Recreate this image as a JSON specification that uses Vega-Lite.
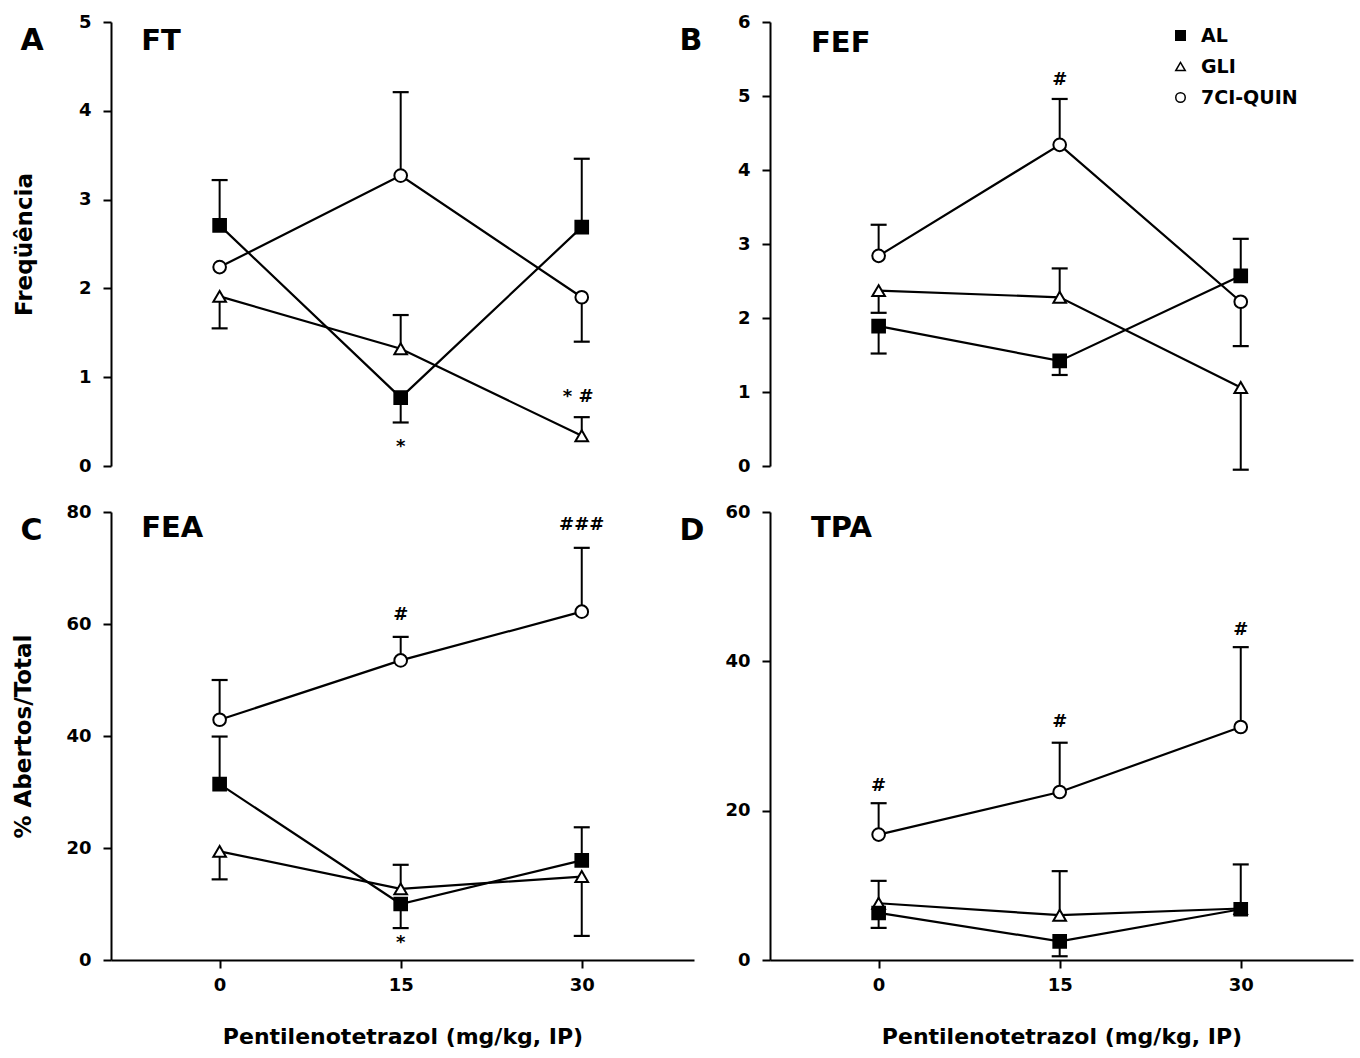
{
  "$schema": "https://vega.github.io/schema/vega-lite/v6.json",
  "background": "white",
  "padding": {"left": 12, "top": 13, "right": 10, "bottom": 6},
  "bounds": "flush",
  "columns": 2,
  "spacing": {"row": 46, "column": 76},
  "config": {
    "view": {"stroke": null},
    "font": "DejaVu Sans",
    "axis": {
      "grid": false,
      "domainColor": "black", "domainWidth": 2,
      "tickColor": "black", "tickWidth": 2, "tickSize": 8,
      "labelFont": "DejaVu Sans", "labelFontSize": 18, "labelFontWeight": "bold", "labelColor": "black",
      "titleFont": "DejaVu Sans", "titleFontSize": 22, "titleFontWeight": "bold", "titleColor": "black"
    },
    "axisY": {"labelPadding": 12, "titleFontSize": 23},
    "axisX": {"labelPadding": 8},
    "text": {"font": "DejaVu Sans", "color": "black"}
  },
  "datasets": {
    "pts": [
      {"p": "A", "dose": 0, "g": "AL", "m": 2.71, "e": 3.22},
      {"p": "A", "dose": 15, "g": "AL", "m": 0.77, "e": 0.49},
      {"p": "A", "dose": 30, "g": "AL", "m": 2.69, "e": 3.46},
      {"p": "A", "dose": 0, "g": "GLI", "m": 1.91, "e": 1.55},
      {"p": "A", "dose": 15, "g": "GLI", "m": 1.32, "e": 1.70},
      {"p": "A", "dose": 30, "g": "GLI", "m": 0.34, "e": 0.55},
      {"p": "A", "dose": 0, "g": "7CI-QUIN", "m": 2.24, "e": null},
      {"p": "A", "dose": 15, "g": "7CI-QUIN", "m": 3.27, "e": 4.21},
      {"p": "A", "dose": 30, "g": "7CI-QUIN", "m": 1.90, "e": 1.40},
      {"p": "B", "dose": 0, "g": "AL", "m": 1.89, "e": 1.52},
      {"p": "B", "dose": 15, "g": "AL", "m": 1.42, "e": 1.23},
      {"p": "B", "dose": 30, "g": "AL", "m": 2.57, "e": 3.07},
      {"p": "B", "dose": 0, "g": "GLI", "m": 2.37, "e": 2.07},
      {"p": "B", "dose": 15, "g": "GLI", "m": 2.28, "e": 2.67},
      {"p": "B", "dose": 30, "g": "GLI", "m": 1.06, "e": -0.05},
      {"p": "B", "dose": 0, "g": "7CI-QUIN", "m": 2.84, "e": 3.26},
      {"p": "B", "dose": 15, "g": "7CI-QUIN", "m": 4.34, "e": 4.96},
      {"p": "B", "dose": 30, "g": "7CI-QUIN", "m": 2.22, "e": 1.62},
      {"p": "C", "dose": 0, "g": "AL", "m": 31.4, "e": 39.9},
      {"p": "C", "dose": 15, "g": "AL", "m": 10.0, "e": 5.7},
      {"p": "C", "dose": 30, "g": "AL", "m": 17.8, "e": 23.7},
      {"p": "C", "dose": 0, "g": "GLI", "m": 19.4, "e": 14.4},
      {"p": "C", "dose": 15, "g": "GLI", "m": 12.7, "e": 17.0},
      {"p": "C", "dose": 30, "g": "GLI", "m": 14.9, "e": 4.3},
      {"p": "C", "dose": 0, "g": "7CI-QUIN", "m": 42.9, "e": 50.0},
      {"p": "C", "dose": 15, "g": "7CI-QUIN", "m": 53.5, "e": 57.7},
      {"p": "C", "dose": 30, "g": "7CI-QUIN", "m": 62.2, "e": 73.6},
      {"p": "D", "dose": 0, "g": "GLI", "m": 7.6, "e": 10.6},
      {"p": "D", "dose": 15, "g": "GLI", "m": 6.0, "e": 11.9},
      {"p": "D", "dose": 30, "g": "GLI", "m": 6.9, "e": null},
      {"p": "D", "dose": 0, "g": "7CI-QUIN", "m": 16.8, "e": 21.0},
      {"p": "D", "dose": 15, "g": "7CI-QUIN", "m": 22.5, "e": 29.1},
      {"p": "D", "dose": 30, "g": "7CI-QUIN", "m": 31.2, "e": 41.9},
      {"p": "D", "dose": 0, "g": "AL", "m": 6.3, "e": 4.3},
      {"p": "D", "dose": 15, "g": "AL", "m": 2.5, "e": 0.5},
      {"p": "D", "dose": 30, "g": "AL", "m": 6.8, "e": 12.8}
    ],
    "ann": [
      {"p": "A", "dose": 15, "y": 0.21, "t": "*"},
      {"p": "A", "dose": 29.7, "y": 0.78, "t": "*  #"},
      {"p": "B", "dose": 15, "y": 5.22, "t": "#"},
      {"p": "C", "dose": 15, "y": 61.6, "t": "#"},
      {"p": "C", "dose": 15, "y": 3.0, "t": "*"},
      {"p": "C", "dose": 30, "y": 77.7, "t": "###"},
      {"p": "D", "dose": 0, "y": 23.3, "t": "#"},
      {"p": "D", "dose": 15, "y": 31.9, "t": "#"},
      {"p": "D", "dose": 30, "y": 44.2, "t": "#"}
    ],
    "lbl": [
      {"p": "A", "t": "FT", "L": "A"},
      {"p": "B", "t": "FEF", "L": "B"},
      {"p": "C", "t": "FEA", "L": "C"},
      {"p": "D", "t": "TPA", "L": "D"}
    ]
  },
  "resolve": {"scale": {"shape": "independent", "fill": "independent"}},
  "concat": [
    {
      "width": 583, "height": 444,
      "layer": [
        {
          "data": {"name": "pts"},
          "transform": [{"filter": "datum.p === 'A' && isValid(datum.e)"}],
          "mark": {"type": "rule", "color": "black", "strokeWidth": 2},
          "encoding": {
            "x": {"field": "dose", "type": "quantitative", "scale": {"domain": [-9, 39.3], "nice": false, "zero": false}, "axis": null},
            "y": {"field": "m", "type": "quantitative", "scale": {"domain": [0, 5], "nice": false}, "axis": {"title": "Freqüência", "values": [0, 1, 2, 3, 4, 5], "format": "d", "titlePadding": 42}},
            "y2": {"field": "e"}
          }
        },
        {
          "data": {"name": "pts"},
          "transform": [{"filter": "datum.p === 'A' && isValid(datum.e)"}],
          "mark": {"type": "tick", "orient": "horizontal", "color": "black", "size": 16, "thickness": 2.2, "opacity": 1},
          "encoding": {
            "x": {"field": "dose", "type": "quantitative"},
            "y": {"field": "e", "type": "quantitative"}
          }
        },
        {
          "data": {"name": "pts"},
          "transform": [{"filter": "datum.p === 'A'"}],
          "mark": {"type": "line", "color": "black", "strokeWidth": 2.2},
          "encoding": {
            "x": {"field": "dose", "type": "quantitative"},
            "y": {"field": "m", "type": "quantitative"},
            "detail": {"field": "g"}
          }
        },
        {
          "data": {"name": "pts"},
          "transform": [{"filter": "datum.p === 'A'"}],
          "mark": {"type": "point", "filled": true, "stroke": "black", "strokeWidth": 2, "size": 160, "opacity": 1},
          "encoding": {
            "x": {"field": "dose", "type": "quantitative"},
            "y": {"field": "m", "type": "quantitative"},
            "shape": {"field": "g", "type": "nominal", "scale": {"domain": ["AL", "GLI", "7CI-QUIN"], "range": ["square", "triangle-up", "circle"]}, "legend": null},
            "fill": {"field": "g", "type": "nominal", "scale": {"domain": ["AL", "GLI", "7CI-QUIN"], "range": ["black", "white", "white"]}, "legend": null}
          }
        },
        {
          "data": {"name": "ann"},
          "transform": [{"filter": "datum.p === 'A'"}],
          "mark": {"type": "text", "fontSize": 18, "fontWeight": "bold", "align": "center", "baseline": "middle"},
          "encoding": {
            "x": {"field": "dose", "type": "quantitative"},
            "y": {"field": "y", "type": "quantitative"},
            "text": {"field": "t"}
          }
        },
        {
          "data": {"name": "lbl"},
          "transform": [{"filter": "datum.p === 'A'"}],
          "mark": {"type": "text", "fontSize": 29, "fontWeight": "bold", "align": "left", "baseline": "alphabetic"},
          "encoding": {
            "x": {"datum": -6.5},
            "y": {"datum": 4.68},
            "text": {"field": "t"}
          }
        },
        {
          "data": {"name": "lbl"},
          "transform": [{"filter": "datum.p === 'A'"}],
          "mark": {"type": "text", "fontSize": 30, "fontWeight": "bold", "align": "left", "baseline": "top", "dy": 4},
          "encoding": {
            "x": {"datum": -16.5},
            "y": {"datum": 5},
            "text": {"field": "L"}
          }
        }
      ]
    },
    {
      "width": 583, "height": 444,
      "layer": [
        {
          "data": {"name": "pts"},
          "transform": [{"filter": "datum.p === 'B' && isValid(datum.e)"}],
          "mark": {"type": "rule", "color": "black", "strokeWidth": 2},
          "encoding": {
            "x": {"field": "dose", "type": "quantitative", "scale": {"domain": [-9, 39.3], "nice": false, "zero": false}, "axis": null},
            "y": {"field": "m", "type": "quantitative", "scale": {"domain": [0, 6], "nice": false}, "axis": {"title": null, "values": [0, 1, 2, 3, 4, 5, 6], "format": "d"}},
            "y2": {"field": "e"}
          }
        },
        {
          "data": {"name": "pts"},
          "transform": [{"filter": "datum.p === 'B' && isValid(datum.e)"}],
          "mark": {"type": "tick", "orient": "horizontal", "color": "black", "size": 16, "thickness": 2.2, "opacity": 1},
          "encoding": {
            "x": {"field": "dose", "type": "quantitative"},
            "y": {"field": "e", "type": "quantitative"}
          }
        },
        {
          "data": {"name": "pts"},
          "transform": [{"filter": "datum.p === 'B'"}],
          "mark": {"type": "line", "color": "black", "strokeWidth": 2.2},
          "encoding": {
            "x": {"field": "dose", "type": "quantitative"},
            "y": {"field": "m", "type": "quantitative"},
            "detail": {"field": "g"}
          }
        },
        {
          "data": {"name": "pts"},
          "transform": [{"filter": "datum.p === 'B'"}],
          "mark": {"type": "point", "filled": true, "stroke": "black", "strokeWidth": 2, "size": 160, "opacity": 1},
          "encoding": {
            "x": {"field": "dose", "type": "quantitative"},
            "y": {"field": "m", "type": "quantitative"},
            "shape": {"field": "g", "type": "nominal", "scale": {"domain": ["AL", "GLI", "7CI-QUIN"], "range": ["square", "triangle-up", "circle"]},
              "legend": {"title": null, "orient": "none", "legendX": 401, "legendY": 4, "labelFont": "DejaVu Sans", "labelFontSize": 19, "labelFontWeight": "bold", "labelColor": "black", "symbolSize": 90, "rowPadding": 11, "labelOffset": 11,
                "encode": {"symbols": {"update": {"stroke": {"value": "black"}, "strokeWidth": {"value": 1.8}}}}}},
            "fill": {"field": "g", "type": "nominal", "scale": {"domain": ["AL", "GLI", "7CI-QUIN"], "range": ["black", "white", "white"]},
              "legend": {"title": null, "orient": "none", "legendX": 401, "legendY": 4, "labelFont": "DejaVu Sans", "labelFontSize": 19, "labelFontWeight": "bold", "labelColor": "black", "symbolSize": 90, "rowPadding": 11, "labelOffset": 11,
                "encode": {"symbols": {"update": {"stroke": {"value": "black"}, "strokeWidth": {"value": 1.8}}}}}}
          }
        },
        {
          "data": {"name": "ann"},
          "transform": [{"filter": "datum.p === 'B'"}],
          "mark": {"type": "text", "fontSize": 18, "fontWeight": "bold", "align": "center", "baseline": "middle"},
          "encoding": {
            "x": {"field": "dose", "type": "quantitative"},
            "y": {"field": "y", "type": "quantitative"},
            "text": {"field": "t"}
          }
        },
        {
          "data": {"name": "lbl"},
          "transform": [{"filter": "datum.p === 'B'"}],
          "mark": {"type": "text", "fontSize": 29, "fontWeight": "bold", "align": "left", "baseline": "alphabetic"},
          "encoding": {
            "x": {"datum": -5.6},
            "y": {"datum": 5.6},
            "text": {"field": "t"}
          }
        },
        {
          "data": {"name": "lbl"},
          "transform": [{"filter": "datum.p === 'B'"}],
          "mark": {"type": "text", "fontSize": 30, "fontWeight": "bold", "align": "left", "baseline": "top", "dy": 4},
          "encoding": {
            "x": {"datum": -16.5},
            "y": {"datum": 6},
            "text": {"field": "L"}
          }
        }
      ]
    },
    {
      "width": 583, "height": 448,
      "layer": [
        {
          "data": {"name": "pts"},
          "transform": [{"filter": "datum.p === 'C' && isValid(datum.e)"}],
          "mark": {"type": "rule", "color": "black", "strokeWidth": 2},
          "encoding": {
            "x": {"field": "dose", "type": "quantitative", "scale": {"domain": [-9, 39.3], "nice": false, "zero": false}, "axis": {"title": "Pentilenotetrazol (mg/kg, IP)", "values": [0, 15, 30], "titlePadding": 32}},
            "y": {"field": "m", "type": "quantitative", "scale": {"domain": [0, 80], "nice": false}, "axis": {"title": "% Abertos/Total", "values": [0, 20, 40, 60, 80], "titlePadding": 30}},
            "y2": {"field": "e"}
          }
        },
        {
          "data": {"name": "pts"},
          "transform": [{"filter": "datum.p === 'C' && isValid(datum.e)"}],
          "mark": {"type": "tick", "orient": "horizontal", "color": "black", "size": 16, "thickness": 2.2, "opacity": 1},
          "encoding": {
            "x": {"field": "dose", "type": "quantitative"},
            "y": {"field": "e", "type": "quantitative"}
          }
        },
        {
          "data": {"name": "pts"},
          "transform": [{"filter": "datum.p === 'C'"}],
          "mark": {"type": "line", "color": "black", "strokeWidth": 2.2},
          "encoding": {
            "x": {"field": "dose", "type": "quantitative"},
            "y": {"field": "m", "type": "quantitative"},
            "detail": {"field": "g"}
          }
        },
        {
          "data": {"name": "pts"},
          "transform": [{"filter": "datum.p === 'C'"}],
          "mark": {"type": "point", "filled": true, "stroke": "black", "strokeWidth": 2, "size": 160, "opacity": 1},
          "encoding": {
            "x": {"field": "dose", "type": "quantitative"},
            "y": {"field": "m", "type": "quantitative"},
            "shape": {"field": "g", "type": "nominal", "scale": {"domain": ["AL", "GLI", "7CI-QUIN"], "range": ["square", "triangle-up", "circle"]}, "legend": null},
            "fill": {"field": "g", "type": "nominal", "scale": {"domain": ["AL", "GLI", "7CI-QUIN"], "range": ["black", "white", "white"]}, "legend": null}
          }
        },
        {
          "data": {"name": "ann"},
          "transform": [{"filter": "datum.p === 'C'"}],
          "mark": {"type": "text", "fontSize": 18, "fontWeight": "bold", "align": "center", "baseline": "middle"},
          "encoding": {
            "x": {"field": "dose", "type": "quantitative"},
            "y": {"field": "y", "type": "quantitative"},
            "text": {"field": "t"}
          }
        },
        {
          "data": {"name": "lbl"},
          "transform": [{"filter": "datum.p === 'C'"}],
          "mark": {"type": "text", "fontSize": 29, "fontWeight": "bold", "align": "left", "baseline": "alphabetic"},
          "encoding": {
            "x": {"datum": -6.5},
            "y": {"datum": 75.5},
            "text": {"field": "t"}
          }
        },
        {
          "data": {"name": "lbl"},
          "transform": [{"filter": "datum.p === 'C'"}],
          "mark": {"type": "text", "fontSize": 30, "fontWeight": "bold", "align": "left", "baseline": "top", "dy": 4},
          "encoding": {
            "x": {"datum": -16.5},
            "y": {"datum": 80},
            "text": {"field": "L"}
          }
        }
      ]
    },
    {
      "width": 583, "height": 448,
      "layer": [
        {
          "data": {"name": "pts"},
          "transform": [{"filter": "datum.p === 'D' && isValid(datum.e)"}],
          "mark": {"type": "rule", "color": "black", "strokeWidth": 2},
          "encoding": {
            "x": {"field": "dose", "type": "quantitative", "scale": {"domain": [-9, 39.3], "nice": false, "zero": false}, "axis": {"title": "Pentilenotetrazol (mg/kg, IP)", "values": [0, 15, 30], "titlePadding": 32}},
            "y": {"field": "m", "type": "quantitative", "scale": {"domain": [0, 60], "nice": false}, "axis": {"title": null, "values": [0, 20, 40, 60]}},
            "y2": {"field": "e"}
          }
        },
        {
          "data": {"name": "pts"},
          "transform": [{"filter": "datum.p === 'D' && isValid(datum.e)"}],
          "mark": {"type": "tick", "orient": "horizontal", "color": "black", "size": 16, "thickness": 2.2, "opacity": 1},
          "encoding": {
            "x": {"field": "dose", "type": "quantitative"},
            "y": {"field": "e", "type": "quantitative"}
          }
        },
        {
          "data": {"name": "pts"},
          "transform": [{"filter": "datum.p === 'D'"}],
          "mark": {"type": "line", "color": "black", "strokeWidth": 2.2},
          "encoding": {
            "x": {"field": "dose", "type": "quantitative"},
            "y": {"field": "m", "type": "quantitative"},
            "detail": {"field": "g"}
          }
        },
        {
          "data": {"name": "pts"},
          "transform": [{"filter": "datum.p === 'D'"}],
          "mark": {"type": "point", "filled": true, "stroke": "black", "strokeWidth": 2, "size": 160, "opacity": 1},
          "encoding": {
            "x": {"field": "dose", "type": "quantitative"},
            "y": {"field": "m", "type": "quantitative"},
            "shape": {"field": "g", "type": "nominal", "scale": {"domain": ["AL", "GLI", "7CI-QUIN"], "range": ["square", "triangle-up", "circle"]}, "legend": null},
            "fill": {"field": "g", "type": "nominal", "scale": {"domain": ["AL", "GLI", "7CI-QUIN"], "range": ["black", "white", "white"]}, "legend": null}
          }
        },
        {
          "data": {"name": "ann"},
          "transform": [{"filter": "datum.p === 'D'"}],
          "mark": {"type": "text", "fontSize": 18, "fontWeight": "bold", "align": "center", "baseline": "middle"},
          "encoding": {
            "x": {"field": "dose", "type": "quantitative"},
            "y": {"field": "y", "type": "quantitative"},
            "text": {"field": "t"}
          }
        },
        {
          "data": {"name": "lbl"},
          "transform": [{"filter": "datum.p === 'D'"}],
          "mark": {"type": "text", "fontSize": 29, "fontWeight": "bold", "align": "left", "baseline": "alphabetic"},
          "encoding": {
            "x": {"datum": -5.6},
            "y": {"datum": 56.6},
            "text": {"field": "t"}
          }
        },
        {
          "data": {"name": "lbl"},
          "transform": [{"filter": "datum.p === 'D'"}],
          "mark": {"type": "text", "fontSize": 30, "fontWeight": "bold", "align": "left", "baseline": "top", "dy": 4},
          "encoding": {
            "x": {"datum": -16.5},
            "y": {"datum": 60},
            "text": {"field": "L"}
          }
        }
      ]
    }
  ]
}
